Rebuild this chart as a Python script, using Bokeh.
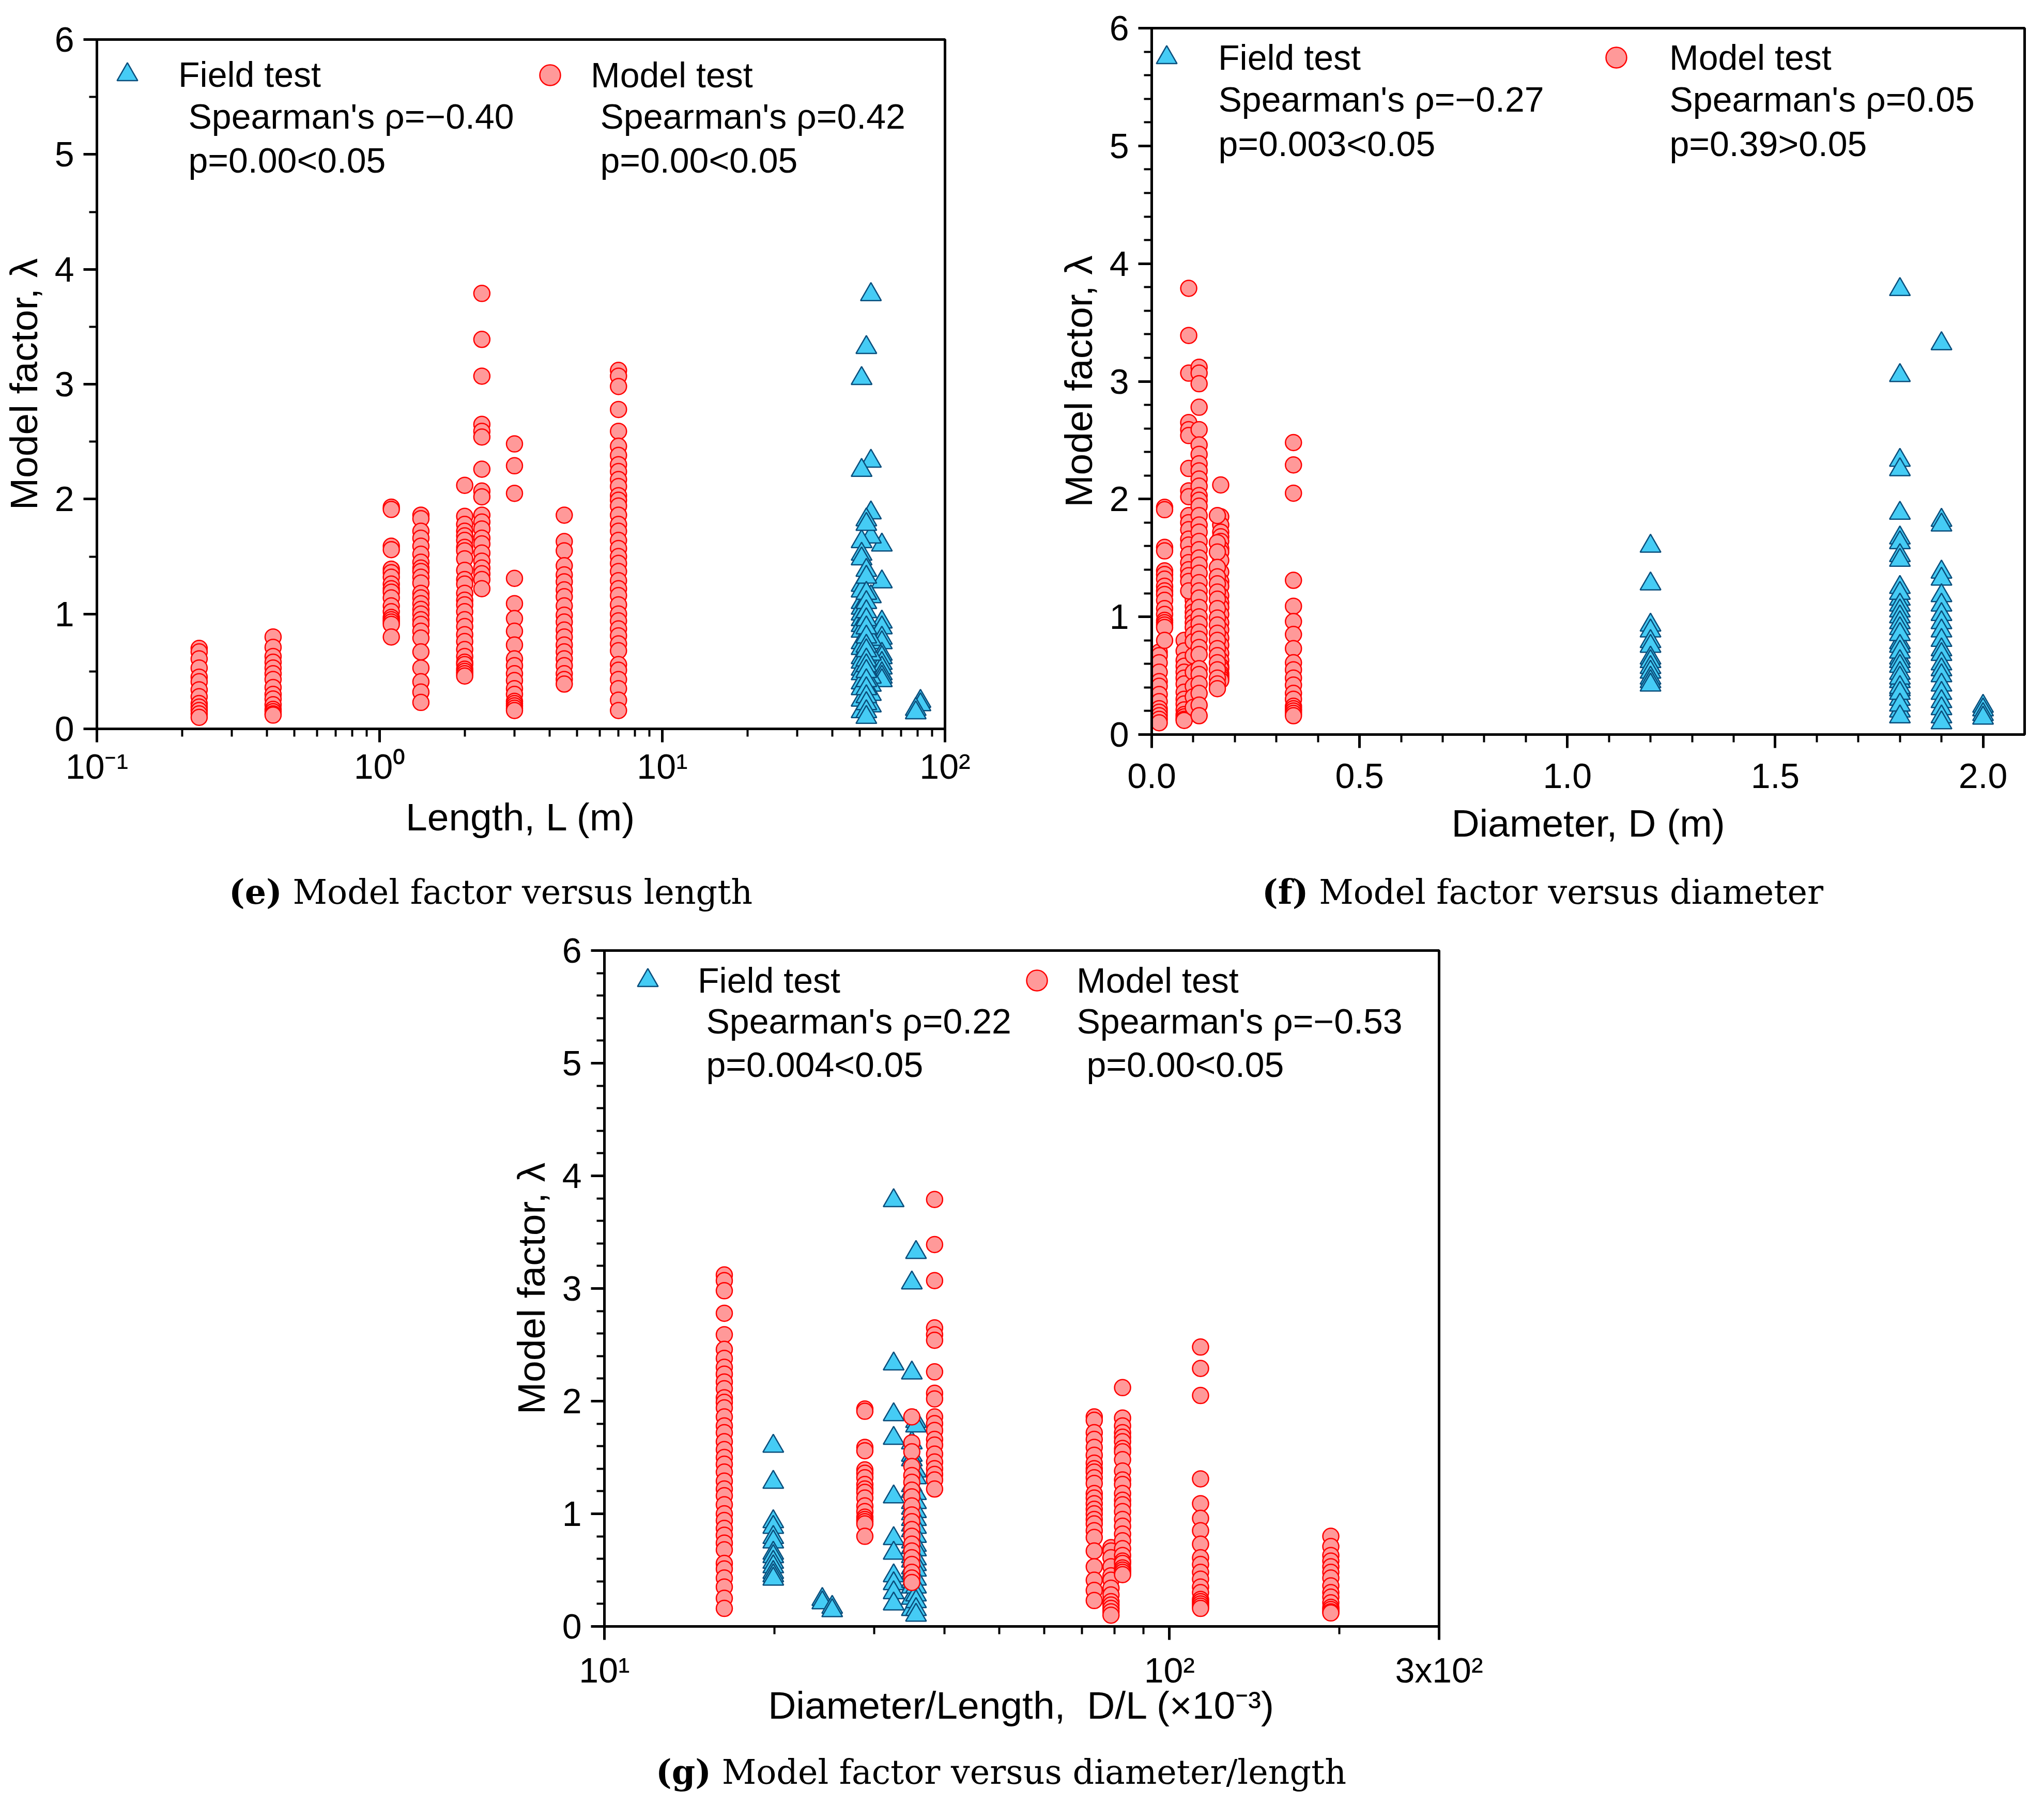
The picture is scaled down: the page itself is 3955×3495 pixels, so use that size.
from bokeh.plotting import figure
from bokeh.models import (FixedTicker, Legend, LegendItem, Label, Range1d,
                          PrintfTickFormatter, Spacer, Div)
from bokeh.layouts import row, column
from bokeh.embed import file_html
from bokeh.resources import INLINE

# ---------------- data ----------------
# Model tests: one column of points per test series (length L, diameter D, D/L x1e-3)
model_L = [0.23, 0.42, 1.1, 1.4, 2.0, 2.3, 3.0, 4.5, 7.0]
model_D = [0.018, 0.078, 0.031, 0.100, 0.166, 0.089, 0.341, 0.158, 0.114]
model_DL = [78.8, 193.0, 28.9, 73.6, 82.6, 38.4, 113.5, 35.0, 16.3]

lam_m1 = [0.70, 0.67, 0.61, 0.53, 0.45, 0.41, 0.34, 0.28, 0.22, 0.19, 0.16, 0.13, 0.10]
lam_m2 = [0.80, 0.71, 0.63, 0.58, 0.53, 0.48, 0.43, 0.36, 0.30, 0.26, 0.21, 0.17, 0.15, 0.13, 0.12]
lam_m3 = [1.93, 1.91, 1.59, 1.56, 1.39, 1.36, 1.32, 1.26, 1.22, 1.19, 1.14, 1.07, 1.02, 0.97,
          0.95, 0.93, 0.91, 0.80]
lam_m4 = [1.86, 1.83, 1.72, 1.66, 1.59, 1.52, 1.45, 1.40, 1.37, 1.32, 1.27, 1.18, 1.14, 1.09,
          1.04, 1.00, 0.95, 0.91, 0.85, 0.79, 0.67, 0.53, 0.41, 0.32, 0.23]
lam_m5 = [2.12, 1.85, 1.78, 1.72, 1.68, 1.64, 1.58, 1.55, 1.48, 1.38, 1.30, 1.26, 1.18, 1.12,
          1.08, 1.02, 0.95, 0.89, 0.82, 0.76, 0.69, 0.63, 0.58, 0.56, 0.52, 0.50, 0.48, 0.46]
lam_m6 = [3.79, 3.39, 3.07, 2.65, 2.59, 2.54, 2.26, 2.07, 2.02, 1.86, 1.80, 1.74, 1.66, 1.61,
          1.53, 1.46, 1.40, 1.35, 1.30, 1.22]
lam_m7 = [2.48, 2.29, 2.05, 1.31, 1.09, 0.96, 0.85, 0.73, 0.61, 0.55, 0.48, 0.42, 0.35, 0.30,
          0.24, 0.22, 0.20, 0.18, 0.16]
lam_m8 = [1.86, 1.63, 1.55, 1.42, 1.34, 1.28, 1.21, 1.15, 1.07, 0.99, 0.93, 0.86, 0.80, 0.73,
          0.67, 0.61, 0.55, 0.48, 0.43, 0.39]
lam_m9 = [3.12, 3.07, 2.98, 2.78, 2.59, 2.46, 2.38, 2.30, 2.24, 2.17, 2.11, 2.03, 1.99, 1.94,
          1.86, 1.78, 1.72, 1.64, 1.57, 1.50, 1.44, 1.37, 1.29, 1.22, 1.16, 1.08, 1.00, 0.94,
          0.87, 0.81, 0.74, 0.68, 0.56, 0.51, 0.43, 0.35, 0.25, 0.16]
model_lam = [lam_m1, lam_m2, lam_m3, lam_m4, lam_m5, lam_m6, lam_m7, lam_m8, lam_m9]

# Field tests
field_L = [59.8, 81.9, 78.8, 54.7, 50.7, 52.7]
field_D = [1.2, 2.0, 2.0, 1.8, 1.8, 1.9]
field_DL = [19.9, 24.3, 25.3, 32.5, 35.0, 35.6]

lam_f1 = [1.60, 1.28, 0.93, 0.88, 0.79, 0.75, 0.65, 0.62, 0.57, 0.53, 0.48, 0.45, 0.42]
lam_f2 = [0.24, 0.21]
lam_f3 = [0.17, 0.14]
lam_f4 = [3.78, 2.33, 1.88, 1.67, 1.15, 0.78, 0.65, 0.45, 0.38, 0.30, 0.20]
lam_f5 = [3.05, 2.25, 1.63, 1.52, 1.48, 1.25, 1.20, 1.10, 1.05, 1.00, 0.95, 0.90, 0.85, 0.75,
          0.70, 0.62, 0.58, 0.52, 0.48, 0.40, 0.35, 0.25, 0.15]
lam_f6 = [3.32, 1.82, 1.78, 1.38, 1.32, 1.18, 1.10, 1.02, 0.95, 0.88, 0.80, 0.72, 0.68, 0.60,
          0.55, 0.50, 0.42, 0.35, 0.28, 0.22, 0.15, 0.10]
field_lam = [lam_f1, lam_f2, lam_f3, lam_f4, lam_f5, lam_f6]

stats_e = ["Spearman's \u03c1=\u22120.40", "p=0.00<0.05", "Spearman's \u03c1=0.42", "p=0.00<0.05"]
stats_f = ["Spearman's \u03c1=\u22120.27", "p=0.003<0.05", "Spearman's \u03c1=0.05", "p=0.39>0.05"]
stats_g = ["Spearman's \u03c1=0.22", "p=0.004<0.05", "Spearman's \u03c1=\u22120.53", "p=0.00<0.05"]

captions = [("(e)", "Model factor versus length"),
            ("(f)", "Model factor versus diameter"),
            ("(g)", "Model factor versus diameter/length")]

SANS = "Liberation Sans"
SERIF = "DejaVu Serif"
TRI_FILL, TRI_LINE = "#45CCF5", "#0A4E7C"
CIR_FILL, CIR_LINE = "#FF9999", "#FF0000"


def flatten(xs, lams):
    fx, fy = [], []
    for x, ls in zip(xs, lams):
        for v in ls:
            fx.append(x)
            fy.append(v)
    return fx, fy


def style(p, yminor, xstand, xlabstand):
    p.grid.visible = False
    p.outline_line_color = "black"
    p.outline_line_width = 5
    p.outline_line_alpha = 1.0
    p.background_fill_color = "white"
    p.border_fill_color = "white"
    p.y_range = Range1d(0, 6)
    p.yaxis.ticker = FixedTicker(ticks=[0, 1, 2, 3, 4, 5, 6], minor_ticks=yminor)
    for ax in p.axis:
        ax.axis_line_width = 5
        ax.axis_line_color = "black"
        ax.major_tick_line_width = 5
        ax.minor_tick_line_width = 4
        ax.major_tick_out = 26
        ax.major_tick_in = 0
        ax.minor_tick_out = 15
        ax.minor_tick_in = 0
        ax.major_label_text_font = SANS
        ax.major_label_text_font_size = "68px"
        ax.major_label_text_color = "black"
        ax.axis_label_text_font = SANS
        ax.axis_label_text_font_size = "75px"
        ax.axis_label_text_font_style = "normal"
        ax.axis_label_text_color = "black"
    p.yaxis.major_label_standoff = 18
    p.yaxis.axis_label_standoff = 15
    p.xaxis.major_label_standoff = xstand
    p.xaxis.axis_label_standoff = xlabstand
    p.yaxis.axis_label = "Model factor, \u03bb"


def add_points(p, fx, fy, mx, my):
    rf = p.scatter(fx, fy, marker="triangle", size=40, fill_color=TRI_FILL,
                   line_color=TRI_LINE, line_width=2.5)
    rm = p.scatter(mx, my, marker="circle", size=31, fill_color=CIR_FILL,
                   line_color=CIR_LINE, line_width=2.5)
    return rf, rm


def add_legend(p, r, text, x, y, standoff):
    leg = Legend(items=[LegendItem(label=text, renderers=[r])], location=(x, y),
                 padding=0, margin=0, spacing=0, glyph_width=100, glyph_height=100,
                 label_standoff=standoff, border_line_color=None,
                 background_fill_alpha=0, label_text_font=SANS,
                 label_text_font_size="68px", label_text_color="black")
    p.add_layout(leg)


def add_text(p, text, x, y):
    p.add_layout(Label(x=x, y=y, x_units="screen", y_units="screen", text=text,
                       text_font=SANS, text_font_size="68px",
                       text_align="left", text_baseline="middle", text_color="black"))


def caption(cap, width, height, line_height, indent):
    return Div(text="<b>%s</b> %s" % cap, width=width, height=height,
               styles={"font-family": SERIF, "font-size": "65px",
                       "line-height": "%dpx" % line_height,
                       "white-space": "nowrap", "text-indent": "%dpx" % indent,
                       "color": "black", "margin": "0", "padding": "0",
                       "overflow": "visible"})


# ---------------- (e) length ----------------
pe = figure(width=1960, height=1680, x_axis_type="log", output_backend="svg",
            toolbar_location=None, min_border_left=181, min_border_right=132,
            min_border_top=76, min_border_bottom=270)
pe.x_range = Range1d(0.1, 100)
style(pe, [0.5, 1.5, 2.5, 3.5, 4.5, 5.5], 8, 15)
pe.xaxis.ticker = FixedTicker(
    ticks=[0.1, 1, 10, 100],
    minor_ticks=[0.2, 0.3, 0.4, 0.5, 0.6, 0.7, 0.8, 0.9, 2, 3, 4, 5, 6, 7, 8, 9,
                 20, 30, 40, 50, 60, 70, 80, 90])
pe.xaxis.major_label_overrides = {0.1: "10\u207b\u00b9", 1: "10\u2070", 10: "10\u00b9", 100: "10\u00b2"}
pe.xaxis.axis_label = "Length, L (m)"
fx, fy = flatten(field_L, field_lam)
mx, my = flatten(model_L, model_lam)
rf, rm = add_points(pe, fx, fy, mx, my)
add_legend(pe, rf, "Field test", 9, 1216, 49)
add_legend(pe, rm, "Model test", 827, 1215, 29)
add_text(pe, stats_e[0], 177, 1186)
add_text(pe, stats_e[1], 177, 1101)
add_text(pe, stats_e[2], 974, 1186)
add_text(pe, stats_e[3], 974, 1101)
cap_e = caption(captions[0], 1960, 110, 92, 443)

# ---------------- (f) diameter ----------------
pf = figure(width=1979, height=1680, output_backend="svg", toolbar_location=None,
            min_border_left=268, min_border_right=22, min_border_top=54,
            min_border_bottom=259)
pf.x_range = Range1d(0, 2.1)
style(pf, [v / 10 for v in range(2, 60, 2) if v % 10 != 0], 30, 23)
pf.xaxis.ticker = FixedTicker(ticks=[0, 0.5, 1.0, 1.5, 2.0],
                              minor_ticks=[v / 10 for v in range(1, 21) if v % 5 != 0])
pf.xaxis.formatter = PrintfTickFormatter(format="%.1f")
pf.xaxis.axis_label = "Diameter, D (m)"
fx, fy = flatten(field_D, field_lam)
mx, my = flatten(model_D, model_lam)
rf, rm = add_points(pf, fx, fy, mx, my)
add_legend(pf, rf, "Field test", -21, 1260, 50)
add_legend(pf, rm, "Model test", 849, 1260, 53)
add_text(pf, stats_f[0], 129, 1230)
add_text(pf, stats_f[1], 129, 1144)
add_text(pf, stats_f[2], 1002, 1230)
add_text(pf, stats_f[3], 1002, 1144)
cap_f = caption(captions[1], 1979, 110, 92, 482)

# ---------------- (g) diameter / length ----------------
pg = figure(width=2300, height=1602, x_axis_type="log", output_backend="svg",
            toolbar_location=None, min_border_left=369, min_border_right=316,
            min_border_top=49, min_border_bottom=245)
pg.x_range = Range1d(10, 300)
style(pg, [v / 10 for v in range(2, 60, 2) if v % 10 != 0], 20, -15)
pg.xaxis.ticker = FixedTicker(ticks=[10, 100, 300],
                              minor_ticks=[20, 30, 40, 50, 60, 70, 80, 90, 200])
pg.xaxis.major_label_overrides = {10: "10\u00b9", 100: "10\u00b2", 300: "3x10\u00b2"}
pg.xaxis.axis_label = "Diameter/Length,\u00a0 D/L (\u00d710\u207b\u00b3)"
fx, fy = flatten(field_DL, field_lam)
mx, my = flatten(model_DL, model_lam)
rf, rm = add_points(pg, fx, fy, mx, my)
add_legend(pg, rf, "Field test", 34, 1200, 47)
add_legend(pg, rm, "Model test", 787, 1200, 27)
add_text(pg, stats_g[0], 197, 1172)
add_text(pg, stats_g[1], 197, 1088)
add_text(pg, stats_g[2], 914, 1172)
add_text(pg, stats_g[3], 933, 1088)
cap_g = caption(captions[2], 2300, 80, 74, 469)

layout = column(
    row(column(pe, cap_e), column(pf, cap_f)),
    row(Spacer(width=800, height=1682), column(pg, cap_g)),
)
open("out.html", "w").write(file_html(layout, INLINE))
